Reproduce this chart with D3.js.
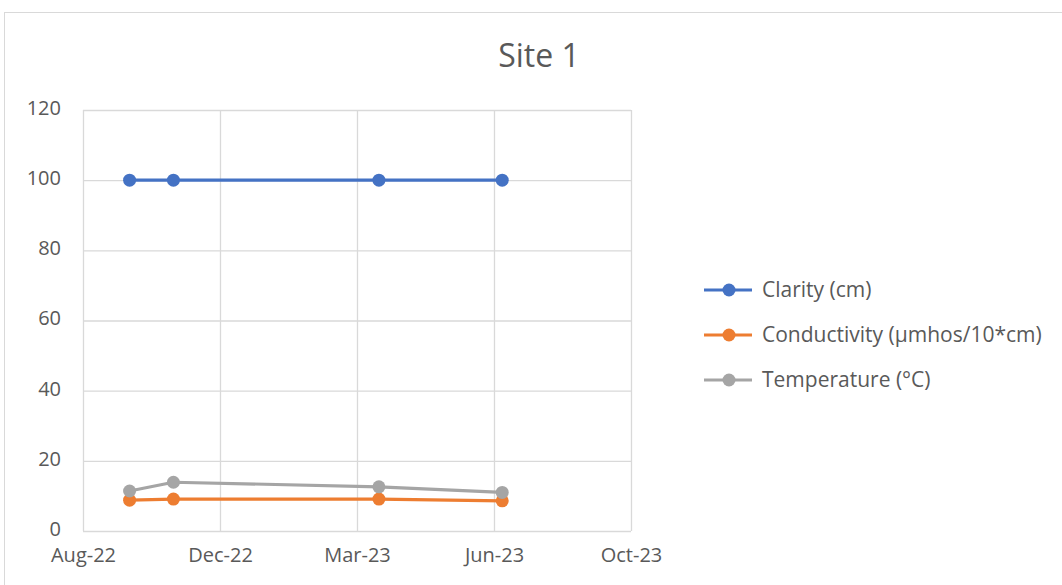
<!DOCTYPE html>
<html>
<head>
<meta charset="utf-8">
<script src="https://cdn.jsdelivr.net/npm/d3@7"></script>
<style>
  body { margin: 0; background: #fff; }
  svg text { font-family: "Open Sans", "Noto Sans", sans-serif; fill: #595959; }
</style>
</head>
<body>
<div id="chart"></div>
<script>
const w = 1062;
const h = 585;

// sample dates and readings
const dates = ["2022-09-30", "2022-11-01", "2023-03-31", "2023-06-29"];
const clarity = [100, 100, 100, 100];
const conductivity = [8.8, 9.1, 9.1, 8.6];
const temperature = [11.4, 13.9, 12.6, 11.0];
const seriesNames = ["Clarity (cm)", "Conductivity (\u00b5mhos/10*cm)", "Temperature (\u00b0C)"];
const seriesColors = ["#4472C4", "#ED7D31", "#A5A5A5"];
const yTicks = [0, 20, 40, 60, 80, 100, 120];
const xTicks = ["2022-08-27", "2022-12-05", "2023-03-15", "2023-06-23", "2023-10-01"];

const parse = d3.timeParse("%Y-%m-%d");
const series = [clarity, conductivity, temperature].map((vals, i) => ({
  name: seriesNames[i],
  color: seriesColors[i],
  values: vals.map((v, j) => [parse(dates[j]), v])
}));

const plot = { left: 83, right: 631, top: 110, bottom: 531 };

const svg = d3.select("#chart").append("svg").attr("width", w).attr("height", h);

// chart frame
svg.append("rect")
  .attr("x", 4.5).attr("y", 12.5)
  .attr("width", w + 10).attr("height", h + 10)
  .attr("fill", "none").attr("stroke", "#d9d9d9");

svg.append("text")
  .attr("x", 539).attr("y", 67)
  .attr("text-anchor", "middle")
  .style("font-size", "32px")
  .text("Site 1");

const xScale = d3.scaleTime()
  .domain([parse(xTicks[0]), parse(xTicks[xTicks.length - 1])])
  .range([plot.left, plot.right]);

const yScale = d3.scaleLinear()
  .domain([0, 120])
  .range([plot.bottom, plot.top]);

//Gridlines
const xAxis = d3.axisBottom(xScale)
  .tickValues(xTicks.map(parse))
  .tickFormat(d3.timeFormat("%b-%y"))
  .tickSize(-(plot.bottom - plot.top))
  .tickPadding(17);

const yAxis = d3.axisLeft(yScale)
  .tickValues(yTicks)
  .tickSize(-(plot.right - plot.left))
  .tickPadding(22);

const gx = svg.append("g")
  .attr("transform", `translate(0, ${plot.bottom})`)
  .call(xAxis);

const gy = svg.append("g")
  .attr("transform", `translate(${plot.left}, 0)`)
  .call(yAxis);

[gx, gy].forEach((g) => {
  g.select(".domain").remove();
  g.selectAll("line").attr("stroke", "#d9d9d9").attr("stroke-width", 1.3);
  g.selectAll("text").style("font-size", "20px").attr("fill", "#595959");
});
gy.selectAll("text").attr("dy", "0.22em");

//Lines and markers
const line = d3.line()
  .x((d) => xScale(d[0]))
  .y((d) => yScale(d[1]));

series.forEach((s) => {
  svg.append("path")
    .datum(s.values)
    .attr("d", line)
    .attr("fill", "none")
    .attr("stroke", s.color)
    .attr("stroke-width", 3.2)
    .attr("stroke-linejoin", "round");

  svg.selectAll(null)
    .data(s.values)
    .enter()
    .append("circle")
    .attr("cx", (d) => xScale(d[0]))
    .attr("cy", (d) => yScale(d[1]))
    .attr("r", 6.5)
    .attr("fill", s.color);
});

//Legend
const legend = svg.append("g").attr("transform", "translate(704, 290)");
series.forEach((s, i) => {
  const row = legend.append("g").attr("transform", `translate(0, ${i * 45})`);
  row.append("line")
    .attr("x1", 0).attr("x2", 48)
    .attr("stroke", s.color).attr("stroke-width", 3.2);
  row.append("circle").attr("cx", 25).attr("r", 6.5).attr("fill", s.color);
  row.append("text")
    .attr("x", 58).attr("dy", "0.33em")
    .style("font-size", "21px")
    .text(s.name);
});
</script>
</body>
</html>
